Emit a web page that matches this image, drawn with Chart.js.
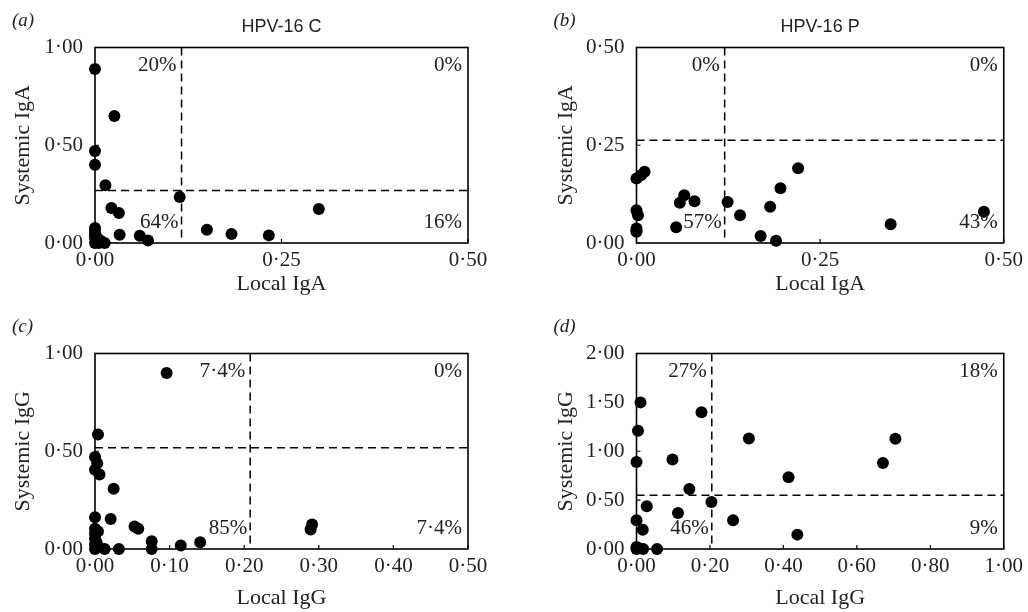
<!DOCTYPE html>
<html>
<head>
<meta charset="utf-8">
<script src="https://cdn.jsdelivr.net/npm/chart.js@4.4.1/dist/chart.umd.min.js"></script>
<style>
  body { margin: 0; background: #fff; }
  #wrap { position: relative; width: 1028px; height: 612px; overflow: hidden; }
  canvas { position: absolute; }
</style>
</head>
<body>
<div id="wrap">
  <canvas id="chartA" width="514" height="306" style="left:0;top:0"></canvas>
  <canvas id="chartB" width="514" height="306" style="left:514px;top:0"></canvas>
  <canvas id="chartC" width="514" height="306" style="left:0;top:306px"></canvas>
  <canvas id="chartD" width="514" height="306" style="left:514px;top:306px"></canvas>
</div>
<script>
// (a) HPV-16 C, IgA
const cIgaLocal = [0, 0.026, 0, 0, 0.014, 0.022, 0.032, 0.1135, 0, 0, 0.003, 0.007, 0.013,
  0.033, 0.06, 0.071, 0.15, 0.183, 0.233, 0.30, 0, 0, 0.002, 0.005, 0];
const cIgaSystemic = [0.89, 0.65, 0.47, 0.40, 0.295, 0.179, 0.153, 0.235, 0.077, 0.045, 0.025, 0.013, 0,
  0.042, 0.037, 0.013, 0.068, 0.046, 0.039, 0.174, 0.06, 0.03, 0.01, 0, 0];

// (b) HPV-16 P, IgA
const pIgaLocal = [0, 0.006, 0.011, 0, 0.002, 0, 0, 0.054, 0.059, 0.065, 0.079, 0.124, 0.141,
  0.169, 0.19, 0.182, 0.196, 0.22, 0.346, 0.473, 0];
const pIgaSystemic = [0.165, 0.173, 0.182, 0.084, 0.071, 0.037, 0.029, 0.040, 0.103, 0.122, 0.107, 0.105, 0.071,
  0.018, 0.006, 0.093, 0.14, 0.191, 0.048, 0.08, 0.032];

// (c) HPV-16 C, IgG
const cIggLocal = [0.096, 0.004, 0, 0.003, 0, 0.006, 0.025, 0, 0.021, 0, 0, 0, 0, 0, 0.013, 0.032,
  0.053, 0.058, 0.076, 0.076, 0.115, 0.141, 0.289, 0.291, 0.004, 0.002, 0.005];
const cIggSystemic = [0.90, 0.586, 0.47, 0.439, 0.405, 0.381, 0.308, 0.163, 0.154, 0.103, 0.078, 0.052, 0.023, 0, 0, 0,
  0.115, 0.103, 0.04, 0, 0.018, 0.035, 0.10, 0.125, 0.09, 0.035, 0.01];

// (d) HPV-16 P, IgG
const pIggLocal = [0.011, 0.004, 0, 0.098, 0.177, 0.306, 0.414, 0.671, 0.705, 0.144, 0.204, 0.113,
  0.028, 0.263, 0.438, 0, 0.017, 0, 0.005, 0.018, 0.056, 0];
const pIggSystemic = [1.50, 1.21, 0.89, 0.915, 1.40, 1.13, 0.735, 0.879, 1.128, 0.614, 0.481, 0.369,
  0.437, 0.294, 0.147, 0.294, 0.198, 0.02, 0.01, 0, 0, 0];

// cut-off values (dashed lines), panels a-d
const cutoffLocal = [0.116, 0.12, 0.208, 0.205];
const cutoffSystemic = [0.269, 0.263, 0.518, 0.55];

// quadrant percentages: upper left, upper right, lower left, lower right
const quadA = ["20%", "0%", "64%", "16%"];
const quadB = ["0%", "0%", "57%", "43%"];
const quadC = ["7·4%", "0%", "85%", "7·4%"];
const quadD = ["27%", "18%", "46%", "9%"];

// tick values
const xTicksIga = [0, 0.25, 0.5];
const xTicksC = [0, 0.1, 0.2, 0.3, 0.4, 0.5];
const xTicksD = [0, 0.2, 0.4, 0.6, 0.8, 1.0];
const yTicksA = [0, 0.5, 1.0];
const yTicksB = [0, 0.25, 0.5];
const yTicksC = [0, 0.5, 1.0];
const yTicksD = [0, 0.5, 1.0, 1.5, 2.0];

const ink = "#222";
const serif = '"Liberation Serif", "Times New Roman", serif';
const fmt = (v) => Number(v).toFixed(2).replace(".", "\u00b7");

const decorations = {
  id: "decorations",
  beforeDatasetsDraw(chart, args, opts) {
    const { ctx, chartArea: a, scales: { x, y } } = chart;
    ctx.save();
    ctx.strokeStyle = "#000";
    ctx.lineWidth = 1.6;
    ctx.strokeRect(a.left, a.top, a.right - a.left, a.bottom - a.top);

    // small inner tick marks
    ctx.lineWidth = 1.2;
    ctx.beginPath();
    x.ticks.forEach((t) => {
      const px = x.getPixelForValue(t.value);
      ctx.moveTo(px, a.bottom);
      ctx.lineTo(px, a.bottom - 4);
    });
    y.ticks.forEach((t) => {
      const py = y.getPixelForValue(t.value);
      ctx.moveTo(a.left, py);
      ctx.lineTo(a.left + 4, py);
    });
    ctx.stroke();

    // cut-off lines
    const cx = x.getPixelForValue(opts.cutX);
    const cy = y.getPixelForValue(opts.cutY);
    ctx.setLineDash([8, 5]);
    ctx.lineWidth = 1.5;
    ctx.beginPath();
    ctx.moveTo(cx, a.top);
    ctx.lineTo(cx, a.bottom);
    ctx.moveTo(a.left, cy);
    ctx.lineTo(a.right, cy);
    ctx.stroke();
    ctx.restore();
  },
  afterDraw(chart, args, opts) {
    const { ctx, chartArea: a, scales: { x } } = chart;
    const cx = x.getPixelForValue(opts.cutX);
    ctx.save();
    ctx.fillStyle = ink;
    ctx.textBaseline = "middle";

    ctx.font = "21px " + serif;
    ctx.textAlign = "right";
    const q = opts.quad;
    ctx.fillText(q[0], cx - 5, a.top + 18);
    ctx.fillText(q[1], a.right - 6, a.top + 18);
    ctx.fillText(q[2], cx - 3, a.bottom - 21);
    ctx.fillText(q[3], a.right - 6, a.bottom - 21);

    // panel letter
    ctx.textAlign = "left";
    ctx.font = "italic 19px " + serif;
    ctx.fillText(opts.letter, a.left - 83, a.top - 27);

    if (opts.title) {
      ctx.textAlign = "center";
      ctx.font = '18px "Liberation Sans", Arial, sans-serif';
      ctx.fillText(opts.title, (a.left + a.right) / 2, a.top - 20);
    }
    ctx.restore();
  }
};

function makeChart(id, p) {
  const points = p.xs.map((v, i) => ({ x: v, y: p.ys[i] }));
  return new Chart(document.getElementById(id), {
    type: "scatter",
    data: {
      datasets: [{
        data: points,
        backgroundColor: "#000",
        borderWidth: 0,
        pointRadius: 6,
        pointHoverRadius: 6,
        clip: false
      }]
    },
    options: {
      responsive: false,
      animation: false,
      events: [],
      layout: { padding: { left: p.padLeft, right: p.padRight, top: 47.5, bottom: 0 } },
      plugins: {
        legend: { display: false },
        tooltip: { enabled: false },
        decorations: { cutX: p.cutX, cutY: p.cutY, quad: p.quad, letter: p.letter, title: p.title }
      },
      scales: {
        x: {
          type: "linear",
          min: 0,
          max: p.xMax,
          afterBuildTicks: (s) => { s.ticks = p.xTicks.map((v) => ({ value: v })); },
          afterFit: (s) => { s.height = 63; },
          grid: { display: false, drawTicks: false },
          border: { display: false },
          ticks: { padding: 5, autoSkip: false, maxRotation: 0, color: ink, font: { family: serif, size: 21 }, callback: fmt },
          title: { display: true, text: p.xTitle, color: ink, font: { family: serif, size: 22 }, padding: { top: 0, bottom: p.xTitlePad } }
        },
        y: {
          type: "linear",
          min: 0,
          max: p.yMax,
          afterBuildTicks: (s) => { s.ticks = p.yTicks.map((v) => ({ value: v })); },
          afterFit: (s) => { s.width = p.yWidth; },
          grid: { display: false, drawTicks: false },
          border: { display: false },
          ticks: { padding: 12, autoSkip: false, color: ink, font: { family: serif, size: 21 }, callback: fmt },
          title: { display: true, text: p.yTitle, color: ink, font: { family: serif, size: 22 }, padding: { top: 10, bottom: 0 } }
        }
      }
    },
    plugins: [decorations]
  });
}

makeChart("chartA", {
  xs: cIgaLocal, ys: cIgaSystemic, xMax: 0.5, yMax: 1.0, xTicks: xTicksIga, yTicks: yTicksA,
  cutX: cutoffLocal[0], cutY: cutoffSystemic[0], quad: quadA, letter: "(a)", title: "HPV-16 C",
  xTitle: "Local IgA", yTitle: "Systemic IgA", padLeft: 0, yWidth: 95, padRight: 46, xTitlePad: 8.8
});
makeChart("chartB", {
  xs: pIgaLocal, ys: pIgaSystemic, xMax: 0.5, yMax: 0.5, xTicks: xTicksIga, yTicks: yTicksB,
  cutX: cutoffLocal[1], cutY: cutoffSystemic[1], quad: quadB, letter: "(b)", title: "HPV-16 P",
  xTitle: "Local IgA", yTitle: "Systemic IgA", padLeft: 29, yWidth: 93.5, padRight: 16, xTitlePad: 8.8
});
makeChart("chartC", {
  xs: cIggLocal, ys: cIggSystemic, xMax: 0.5, yMax: 1.0, xTicks: xTicksC, yTicks: yTicksC,
  cutX: cutoffLocal[2], cutY: cutoffSystemic[2], quad: quadC, letter: "(c)", title: null,
  xTitle: "Local IgG", yTitle: "Systemic IgG", padLeft: 0, yWidth: 95, padRight: 46, xTitlePad: 0.8
});
makeChart("chartD", {
  xs: pIggLocal, ys: pIggSystemic, xMax: 1.0, yMax: 2.0, xTicks: xTicksD, yTicks: yTicksD,
  cutX: cutoffLocal[3], cutY: cutoffSystemic[3], quad: quadD, letter: "(d)", title: null,
  xTitle: "Local IgG", yTitle: "Systemic IgG", padLeft: 29, yWidth: 93.5, padRight: 22, xTitlePad: 0.8
});
</script>
</body>
</html>
